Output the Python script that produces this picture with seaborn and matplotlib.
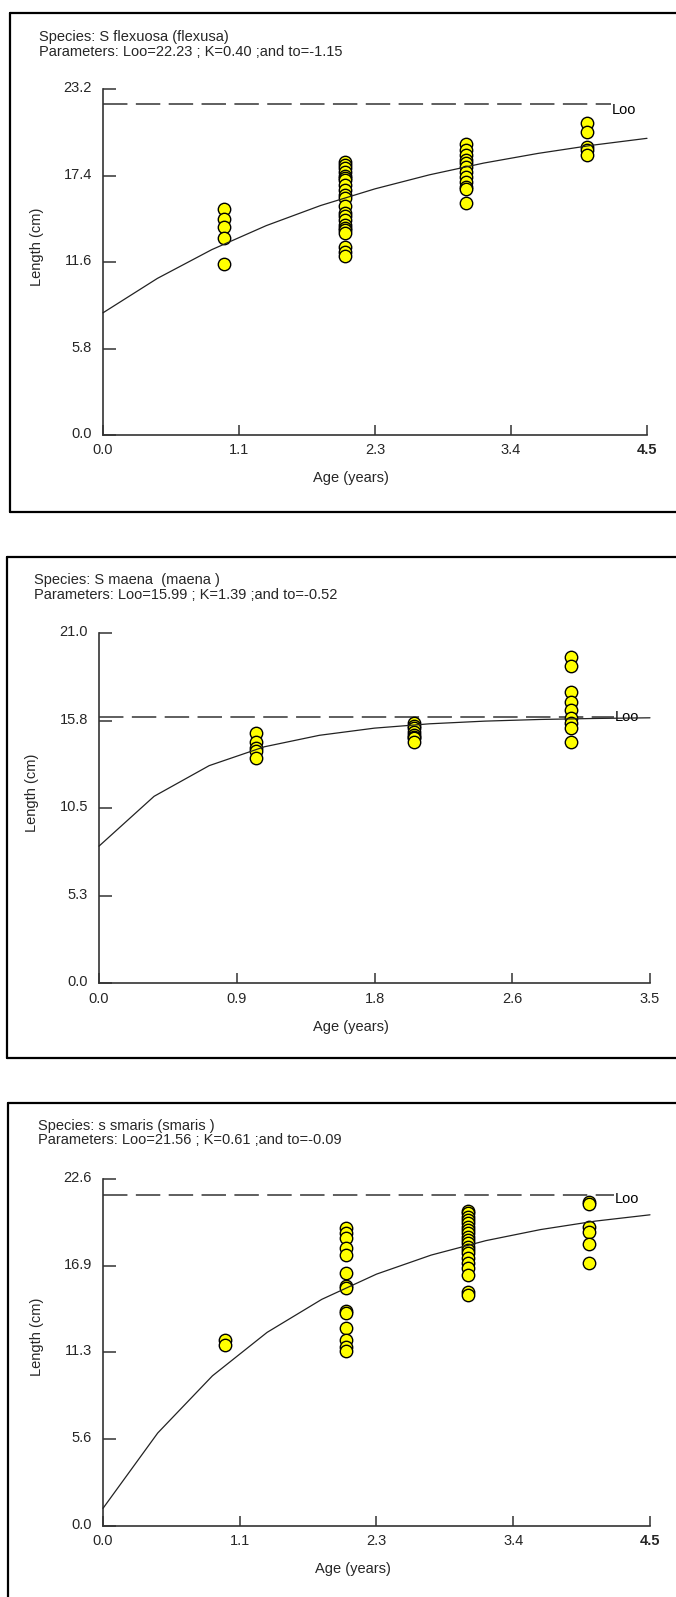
import matplotlib
matplotlib.use("Agg")
import matplotlib.pyplot as plt
import matplotlib.transforms as mtransforms
from matplotlib.lines import Line2D
import pandas as pd
import seaborn as sns

# ---------------- dados ----------------
# painel 1 - S flexuosa
p1_titulo = ["Species: S flexuosa (flexusa)",
             "Parameters: Loo=22.23 ; K=0.40 ;and to=-1.15"]
p1_idade1 = [15.19, 14.48, 13.98, 13.20, 11.48]
p1_idade2 = [18.29, 18.10, 17.90, 17.66, 17.40, 17.25, 17.10, 16.77, 16.43, 16.10,
             15.90, 15.36, 14.90, 14.69, 14.42, 14.08, 13.90, 13.75, 13.53, 12.63,
             12.29, 12.01]
p1_idade3 = [19.53, 19.13, 18.79, 18.46, 18.23, 18.00, 17.67, 17.34, 17.00, 16.66,
             16.49, 15.55]
p1_idade4 = [20.92, 20.36, 19.35, 19.10, 18.79]
p1_t = [0, 0.45, 0.9, 1.35, 1.8, 2.25, 2.7, 3.15, 3.6, 4.05, 4.5]
p1_L = [8.20, 10.51, 12.44, 14.05, 15.40, 16.52, 17.46, 18.25, 18.90, 19.45, 19.91]
p1_loo = 22.23
p1_xticks = [0, 1.125, 2.25, 3.375, 4.5]
p1_xlabels = ["0.0", "1.1", "2.3", "3.4", "4.5"]
p1_yticks = [0, 5.8, 11.6, 17.4, 23.2]
p1_ylabels = ["0.0", "5.8", "11.6", "17.4", "23.2"]

# painel 2 - S maena
p2_titulo = ["Species: S maena  (maena )",
             "Parameters: Loo=15.99 ; K=1.39 ;and to=-0.52"]
p2_idade1 = [15.00, 14.50, 14.10, 13.96, 13.54]
p2_idade2 = [15.60, 15.45, 15.30, 15.10, 14.90, 14.80, 14.70, 14.50]
p2_idade3 = [19.60, 19.04, 17.50, 16.90, 16.40, 15.90, 15.60, 15.30, 14.50]
p2_t = [0, 0.35, 0.7, 1.05, 1.4, 1.75, 2.1, 2.45, 2.8, 3.15, 3.5]
p2_L = [8.23, 11.22, 13.06, 14.19, 14.88, 15.31, 15.57, 15.73, 15.83, 15.89, 15.93]
p2_loo = 15.99
p2_xticks = [0, 0.875, 1.75, 2.625, 3.5]
p2_xlabels = ["0.0", "0.9", "1.8", "2.6", "3.5"]
p2_yticks = [0, 5.25, 10.5, 15.75, 21.0]
p2_ylabels = ["0.0", "5.3", "10.5", "15.8", "21.0"]

# painel 3 - s smaris
p3_titulo = ["Species: s smaris (smaris )",
             "Parameters: Loo=21.56 ; K=0.61 ;and to=-0.09"]
p3_idade1 = [12.10, 11.78]
p3_idade2 = [19.37, 19.04, 18.72, 18.07, 17.63, 16.48, 15.62, 15.47, 14.01, 13.84,
             12.86, 12.10, 11.67, 11.41]
p3_idade3 = [20.52, 20.35, 20.13, 19.91, 19.70, 19.48, 19.26, 19.05, 18.83, 18.61,
             18.39, 18.17, 17.96, 17.74, 17.41, 17.09, 16.77, 16.33, 15.24, 15.03]
p3_idade4 = [21.11, 20.95, 19.48, 19.15, 18.35, 17.14]
p3_t = [0, 0.45, 0.9, 1.35, 1.8, 2.25, 2.7, 3.15, 3.6, 4.05, 4.5]
p3_L = [1.15, 6.05, 9.77, 12.60, 14.75, 16.39, 17.63, 18.57, 19.29, 19.84, 20.25]
p3_loo = 21.56
p3_xticks = [0, 1.125, 2.25, 3.375, 4.5]
p3_xlabels = ["0.0", "1.1", "2.3", "3.4", "4.5"]
p3_yticks = [0, 5.65, 11.3, 16.95, 22.6]
p3_ylabels = ["0.0", "5.6", "11.3", "16.9", "22.6"]

# ---------------- estilo ----------------
sns.set_theme(style="white")
plt.rcParams['font.family'] = ['Liberation Sans', 'DejaVu Sans']
W, H = 676, 1597
fig = plt.figure(figsize=(W / 100, H / 100), dpi=100)
fig.patch.set_facecolor("white")
FS = 10.5
CINZA = "#333333"


def fx(x):
    return x / W


def fy(y):
    return 1 - y / H


def tabela(grupos):
    linhas = []
    for idade, valores in grupos:
        for v in valores:
            linhas.append({"idade": idade, "comp": v})
    return pd.DataFrame(linhas)


def painel(caixa, grupos, t, L, loo, xt, xl, yt, yl, loo_fim, loo_dy, negrito):
    left, top, right, bottom = caixa
    ax = fig.add_axes([fx(left), fy(bottom), fx(right - left), (bottom - top) / H])
    df = tabela(grupos)
    curva = pd.DataFrame({"t": t, "L": L})
    sns.scatterplot(data=df, x="idade", y="comp", ax=ax, s=80, color="#FFFF00",
                    edgecolor="black", linewidth=1.0, zorder=3, clip_on=False, legend=False)
    sns.lineplot(data=curva, x="t", y="L", ax=ax, color="#222222", linewidth=0.9,
                 zorder=4, clip_on=False)
    ax.plot([0, loo_fim], [loo, loo], color=CINZA, linewidth=1.1,
            linestyle=(0, (16, 5.5)), zorder=2)
    ax.annotate("Loo", xy=(loo_fim, loo), xytext=(1, loo_dy), textcoords="offset points",
                ha="left", va="center", fontsize=FS, color="black")
    ax.set_xlim(xt[0], xt[-1])
    ax.set_ylim(yt[0], yt[-1])
    ax.set_xticks(xt)
    ax.set_xticklabels(xl)
    ax.set_yticks(yt)
    ax.set_yticklabels(yl)
    ax.set_xlabel("")
    ax.set_ylabel("")
    for s in ["top", "right"]:
        ax.spines[s].set_visible(False)
    for s in ["left", "bottom"]:
        ax.spines[s].set_color(CINZA)
        ax.spines[s].set_linewidth(1.2)
    ax.tick_params(axis="x", direction="in", length=7.2, width=1.1, color=CINZA,
                   labelsize=FS, pad=6, bottom=True)
    ax.tick_params(axis="y", direction="in", length=9, width=1.1, color=CINZA,
                   labelsize=FS, pad=8, left=True)
    desloc = mtransforms.ScaledTranslation(0, 2.5 / 100, fig.dpi_scale_trans)
    for lab in ax.get_yticklabels():
        lab.set_transform(lab.get_transform() + desloc)
    if negrito:
        ax.get_xticklabels()[-1].set_fontweight("bold")
    ax.set_facecolor("white")
    return ax


def moldura(x0, y0, y1):
    kw = dict(color="black", linewidth=1.6, transform=fig.transFigure)
    fig.add_artist(Line2D([fx(x0), 1.01], [fy(y0), fy(y0)], **kw))
    fig.add_artist(Line2D([fx(x0), fx(x0)], [fy(y0), fy(y1)], **kw))
    if y1 < H:
        fig.add_artist(Line2D([fx(x0), 1.01], [fy(y1), fy(y1)], **kw))


def textos(titulo, tx, ty1, ty2, ylx, yly, axx, axy):
    fig.text(fx(tx), fy(ty1), titulo[0], fontsize=FS, ha="left", va="center")
    fig.text(fx(tx), fy(ty2), titulo[1], fontsize=FS, ha="left", va="center")
    fig.text(fx(ylx), fy(yly), "Length (cm)", fontsize=FS, rotation=90,
             ha="center", va="center")
    fig.text(fx(axx), fy(axy), "Age (years)", fontsize=FS, ha="center", va="center")


# painel 1
moldura(9.5, 13, 512)
painel((103, 89.3, 647, 435),
       [(1, p1_idade1), (2, p1_idade2), (3, p1_idade3), (4, p1_idade4)],
       p1_t, p1_L, p1_loo, p1_xticks, p1_xlabels, p1_yticks, p1_ylabels,
       4.2, -4.5, True)
textos(p1_titulo, 39, 37, 51.5, 36.6, 247, 351, 478)

# painel 2
moldura(6.5, 556.7, 1058)
painel((99, 633.3, 650, 983.3),
       [(1, p2_idade1), (2, p2_idade2), (3, p2_idade3)],
       p2_t, p2_L, p2_loo, p2_xticks, p2_xlabels, p2_yticks, p2_ylabels,
       3.27, -0.5, False)
textos(p2_titulo, 33.5, 580, 594.5, 32.3, 793, 351, 1027)

# painel 3
moldura(7.8, 1102.7, H + 10)
painel((103, 1178.7, 650, 1526),
       [(1, p3_idade1), (2, p3_idade2), (3, p3_idade3), (4, p3_idade4)],
       p3_t, p3_L, p3_loo, p3_xticks, p3_xlabels, p3_yticks, p3_ylabels,
       4.2, -3, True)
textos(p3_titulo, 38, 1126, 1140.5, 36.6, 1337, 352.6, 1569)

fig.savefig("out.png", dpi=100, facecolor="white")
